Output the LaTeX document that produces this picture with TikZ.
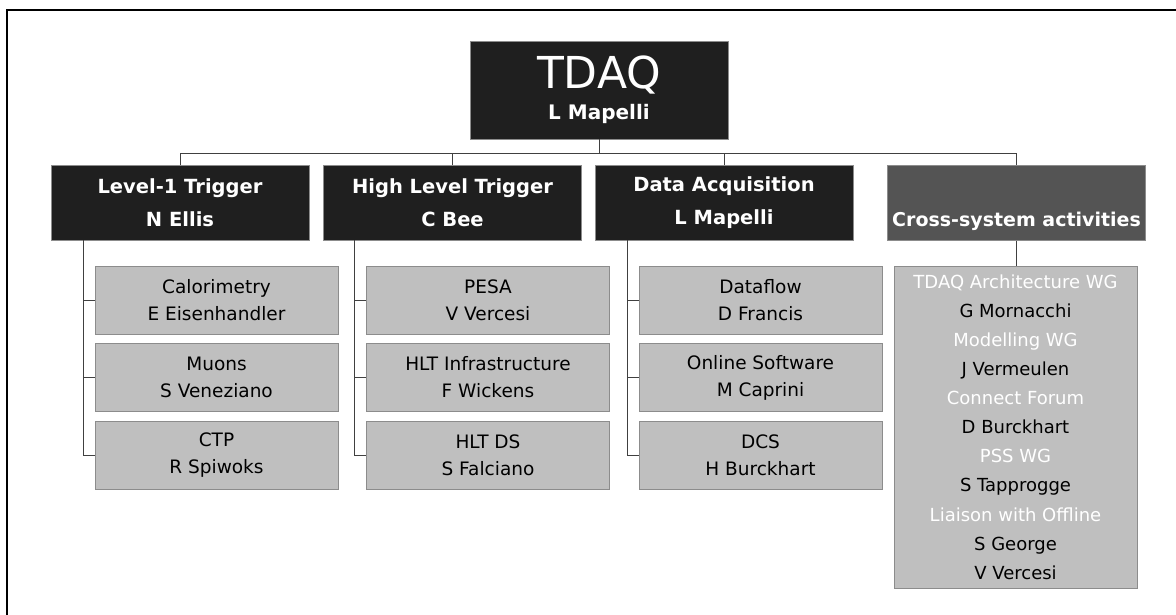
\documentclass[tikz,border=0pt]{standalone}
\usepackage{fontspec}
\setmainfont{DejaVu Sans}
\begin{document}
\begin{tikzpicture}[x=1pt,y=-1pt,
  darkbox/.style={draw=black!45, line width=0.9pt, fill=black!88, text=white, align=center, inner sep=0pt},
  greybox/.style={draw=black!45, line width=0.9pt, fill=black!25, text=black, align=center, inner sep=0pt, minimum width=243pt, minimum height=68pt, font=\fontsize{18.5}{27}\selectfont},
  hdr/.style={darkbox, minimum width=258pt, minimum height=75pt, font=\fontsize{19.5}{33}\selectfont\bfseries},
  conn/.style={draw=black!75, line width=0.8pt},
  frameline/.style={draw=black, line width=2.2pt}
]
\useasboundingbox (0,0) rectangle (1176,615);
\draw[frameline] (7,615) -- (7,10) -- (1176,10);

% top
\node[darkbox, minimum width=258pt, minimum height=98pt] (tdaq) at (599,90)
  {{\fontsize{44}{44}\selectfont TDAQ}\\[9pt]{\fontsize{20}{20}\selectfont\bfseries L Mapelli}};

% headers
\node[hdr] (l1) at (180,203) {Level-1 Trigger\\N Ellis};
\node[hdr] (hlt) at (452.5,202.5) {High Level Trigger\\C Bee};
\node[hdr] (daq) at (724,202.5) {Data Acquisition\\L Mapelli};
\node[hdr, fill=black!67, font=\fontsize{19}{38}\selectfont\bfseries] (cross) at (1016.5,203) {\vphantom{X}\\Cross-system activities};

% bus
\coordinate (bus) at (599,153);
\draw[conn] (tdaq.south) -- (bus);
\draw[conn] (l1.north) -- (l1.north |- bus) -- (cross.north |- bus) -- (cross.north);
\draw[conn] (hlt.north) -- (hlt.north |- bus);
\draw[conn] (daq.north) -- (daq.north |- bus);

% level-1 children
\node[greybox] (cal) at (216.5,300) {Calorimetry\\E Eisenhandler};
\node[greybox] (muon) at (216.5,377.5) {Muons\\S Veneziano};
\node[greybox] (ctp) at (216.5,455) {CTP\\R Spiwoks};
% HLT children
\node[greybox] (pesa) at (488,300) {PESA\\V Vercesi};
\node[greybox] (hltinf) at (488,377.5) {HLT Infrastructure\\F Wickens};
\node[greybox] (hltds) at (488,455) {HLT DS\\S Falciano};
% DAQ children
\node[greybox] (df) at (760.5,300) {Dataflow\\D Francis};
\node[greybox] (online) at (760.5,377.5) {Online Software\\M Caprini};
\node[greybox] (dcs) at (760.5,455) {DCS\\H Burckhart};

% stems
\coordinate (s1) at (83,240);
\coordinate (s2) at (354,240);
\coordinate (s3) at (627,240);
\draw[conn] (s1) |- (cal.west);
\draw[conn] (s1) |- (muon.west);
\draw[conn] (s1) |- (ctp.west);
\draw[conn] (s2) |- (pesa.west);
\draw[conn] (s2) |- (hltinf.west);
\draw[conn] (s2) |- (hltds.west);
\draw[conn] (s3) |- (df.west);
\draw[conn] (s3) |- (online.west);
\draw[conn] (s3) |- (dcs.west);

% cross list
\node[greybox, minimum width=243pt, minimum height=322pt, font=\fontsize{18}{29.1}\selectfont] (list) at (1015.5,427)
  {\textcolor{white}{TDAQ Architecture WG}\\G Mornacchi\\
   \textcolor{white}{Modelling WG}\\J Vermeulen\\
   \textcolor{white}{Connect Forum}\\D Burckhart\\
   \textcolor{white}{PSS WG}\\S Tapprogge\\
   \textcolor{white}{Liaison with Offline}\\S George\\V Vercesi};
\draw[conn] (cross.south) -- (cross.south |- list.north);
\end{tikzpicture}
\end{document}
